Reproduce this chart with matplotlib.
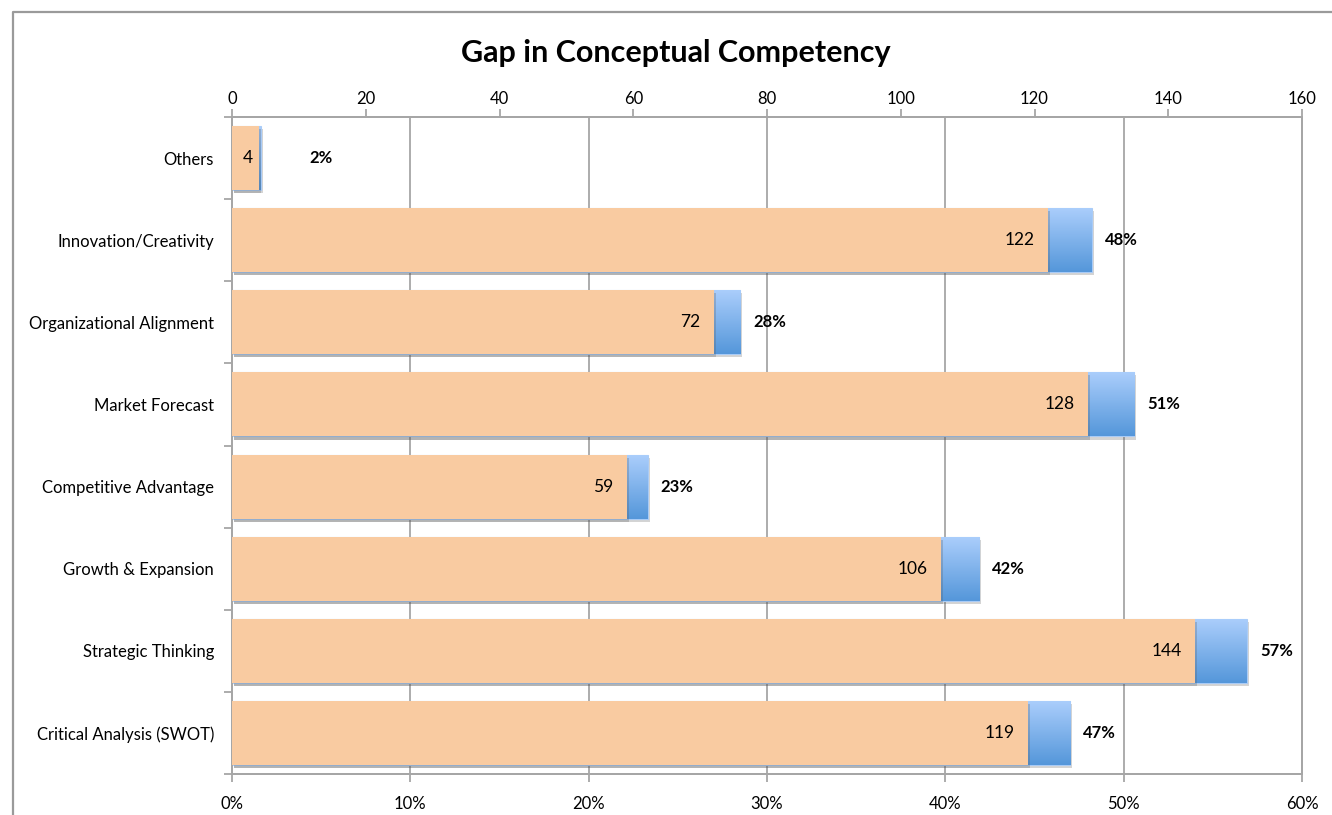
import numpy as np
import matplotlib
matplotlib.use('agg')
import matplotlib.pyplot as plt
from matplotlib import patheffects
from matplotlib.lines import Line2D
from matplotlib.colors import LinearSegmentedColormap

# competency gaps, listed top to bottom
categories = ['Others', 'Innovation/Creativity', 'Organizational Alignment',
              'Market Forecast', 'Competitive Advantage', 'Growth & Expansion',
              'Strategic Thinking', 'Critical Analysis (SWOT)']
counts = [4, 122, 72, 128, 59, 106, 144, 119]
shares = [1.6, 48.2, 28.5, 50.6, 23.3, 41.9, 56.9, 47.0]   # percent of respondents
count_ticks = list(range(0, 161, 20))
share_ticks = list(range(0, 61, 10))

plt.rcParams['font.family'] = ['Lato', 'DejaVu Sans']

GRAY = '#a6a6a6'
PEACH = '#f9cba1'
bar_h = 0.78
label_floor = 3.6   # keeps the % label clear of tiny bars

fig = plt.figure(figsize=(13.32, 8.15), dpi=100)
ax = fig.add_axes([0.1742, 0.0503, 0.8033, 0.8061])
ax2 = ax.twiny()

y = np.arange(len(categories))
shadow = [patheffects.SimplePatchShadow(offset=(1.5, -2.2), shadow_rgbFace='#555555', alpha=0.25),
          patheffects.Normal()]

# blue share bars with a vertical gradient fill
blue = ax.barh(y, shares, height=bar_h, color='none', edgecolor='#a9cbf6',
               linewidth=0.8, zorder=2, path_effects=shadow)
grad = np.linspace(0, 1, 64).reshape(-1, 1)
cmap = LinearSegmentedColormap.from_list('blues', ['#abcefc', '#5597da'])
for bar in blue:
    x0, y0, w, h = bar.get_x(), bar.get_y(), bar.get_width(), bar.get_height()
    im = ax.imshow(grad, cmap=cmap, extent=(x0, x0 + w, y0 + h, y0),
                   aspect='auto', origin='upper', zorder=2.1, interpolation='bilinear')
    im.set_clip_path(bar)

for yi, p in zip(y, shares):
    ax.annotate(f'{p:.0f}%', (max(p, label_floor), yi), xytext=(9.5, 0),
                textcoords='offset points', ha='left', va='center',
                fontsize=12, fontweight='bold')

# peach count bars on the top axis
ax2.barh(y, counts, height=bar_h, color=PEACH, zorder=3, path_effects=shadow)
for yi, c in zip(y, counts):
    ax2.annotate(str(c), (c, yi), xytext=(-9.5 if c > 10 else -4.5, 0),
                 textcoords='offset points', ha='right', va='center', fontsize=12.5)

ax.set_xlim(0, 60)
ax2.set_xlim(0, 160)
ax.set_ylim(len(categories) - 0.5, -0.5)

ax.set_xticks(share_ticks)
ax.set_xticklabels([f'{t}%' for t in share_ticks])
ax2.set_xticks(count_ticks)
ax.set_yticks(y)
ax.set_yticklabels(categories)
ax.set_yticks(np.arange(-0.5, len(categories), 1), minor=True)

ax.xaxis.grid(True, color=GRAY, linewidth=1.3)
ax.set_axisbelow(True)

ax.tick_params(axis='x', direction='out', length=6, width=1.3, color=GRAY,
               pad=10, labelsize=12)
ax2.tick_params(axis='x', direction='out', length=6, width=1.3, color=GRAY,
                pad=1.5, labelsize=12)
ax.tick_params(axis='y', which='major', length=0, pad=13, labelsize=12)
ax.tick_params(axis='y', which='minor', direction='out', length=6, width=1.3, color=GRAY)

for a in (ax, ax2):
    for s in a.spines.values():
        s.set_color(GRAY)
        s.set_linewidth(1.3)

fig.text(0.507, 1 - 53 / 815, 'Gap in Conceptual Competency', ha='center', va='center',
         fontsize=22, fontweight='bold')

# chart frame
fig.add_artist(Line2D([13 / 1332, 13 / 1332, 1], [0, 1 - 12 / 815, 1 - 12 / 815],
                      transform=fig.transFigure, color='#9a9a9a', linewidth=1.6))

fig.savefig('out.png', dpi=100)
